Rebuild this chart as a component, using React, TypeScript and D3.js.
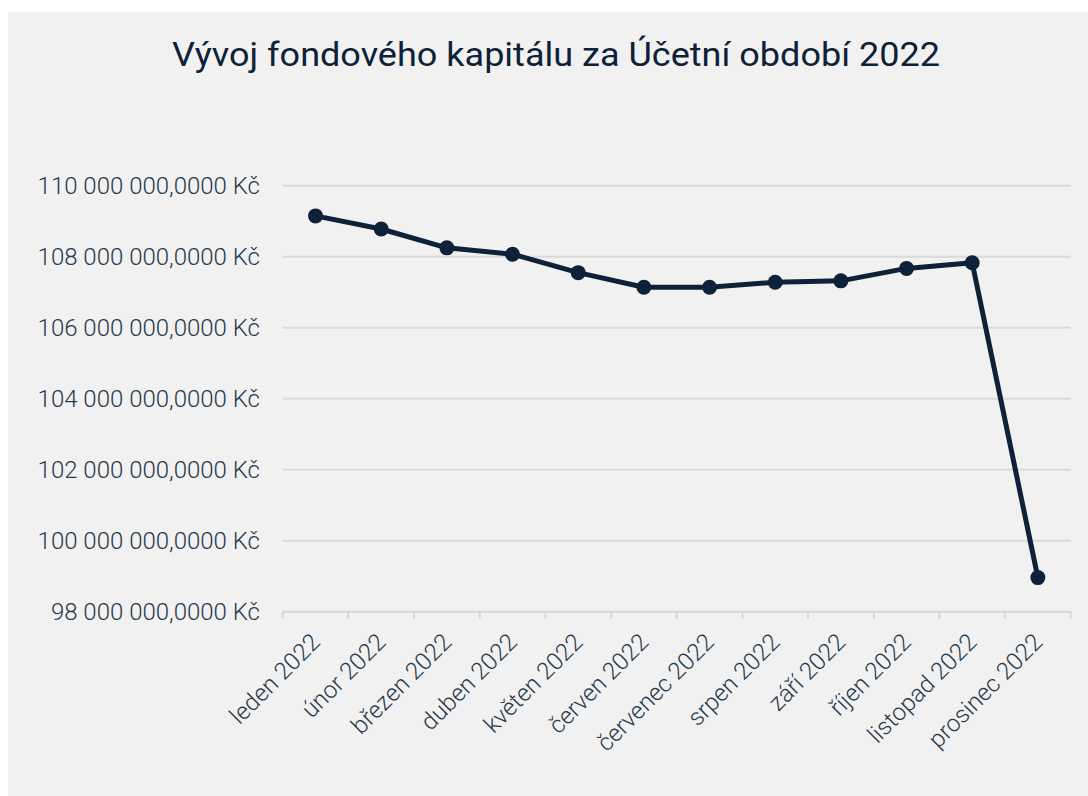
import React from "react";
import * as d3 from "d3";

const months: string[] = [
  "leden 2022", "únor 2022", "březen 2022", "duben 2022", "květen 2022", "červen 2022",
  "červenec 2022", "srpen 2022", "září 2022", "říjen 2022", "listopad 2022", "prosinec 2022",
];
const capital: number[] = [
  109150000, 108780000, 108250000, 108070000, 107550000, 107140000,
  107140000, 107280000, 107320000, 107670000, 107830000, 98960000,
];
const yTicks: number[] = [98000000, 100000000, 102000000, 104000000, 106000000, 108000000, 110000000];
const title = "Vývoj fondového kapitálu za Účetní období 2022";

const W = 1088, H = 796;
const left = 282.7, right = 1070.7, top = 185.7, bottom = 611.7;
const ink = "#0d2238";
const txt = "#27394c";
const font = "Roboto, 'Noto Sans', sans-serif";

function fmt(v: number): string {
  const s = Math.round(v).toString().replace(/\B(?=(\d{3})+(?!\d))/g, " ");
  return s + ",0000 Kč";
}

export default function App() {
  const x = d3.scaleBand<string>().domain(months).range([left, right]).padding(0);
  const y = d3.scaleLinear().domain([98000000, 110000000]).range([bottom, top]);
  const cx = (m: string) => (x(m) as number) + x.bandwidth() / 2;
  const line = d3.line<number>().x((_, i) => cx(months[i])).y((d) => y(d));
  const edges = [...months.map((m) => x(m) as number), right];

  return (
    <svg width={W} height={H} style={{ position: "absolute", left: 0, top: 0 }}>
      <rect x={8} y={12} width={W} height={H} fill="#f1f1f1" />
      <text x={556} y={66} textAnchor="middle" fontFamily={font} fontWeight={400} fontSize={34}
        fill={ink} textLength={768} lengthAdjust="spacingAndGlyphs">{title}</text>
      {yTicks.map((t) => (
        <g key={t}>
          {t !== 98000000 && (
            <line x1={left} x2={right} y1={y(t)} y2={y(t)} stroke="#dadada" strokeWidth={2} />
          )}
          <text x={260} y={y(t)} dy="0.35em" textAnchor="end" fontFamily={font} fontWeight={300}
            fontSize={24} fill={txt}>{fmt(t)}</text>
        </g>
      ))}
      <line x1={left} x2={right} y1={bottom} y2={bottom} stroke="#d6d6d6" strokeWidth={2} />
      {edges.map((e, i) => (
        <line key={i} x1={e} x2={e} y1={bottom} y2={bottom + 7} stroke="#d6d6d6" strokeWidth={2} />
      ))}
      {months.map((m) => (
        <text key={m} transform={`translate(${cx(m) + 6},${bottom + 32}) rotate(-45)`} textAnchor="end"
          fontFamily={font} fontWeight={300} fontSize={24} fill={txt}>{m}</text>
      ))}
      <path d={line(capital) || ""} fill="none" stroke={ink} strokeWidth={5} strokeLinejoin="round" />
      {capital.map((v, i) => (
        <circle key={i} cx={cx(months[i])} cy={y(v)} r={7.5} fill={ink} />
      ))}
    </svg>
  );
}
